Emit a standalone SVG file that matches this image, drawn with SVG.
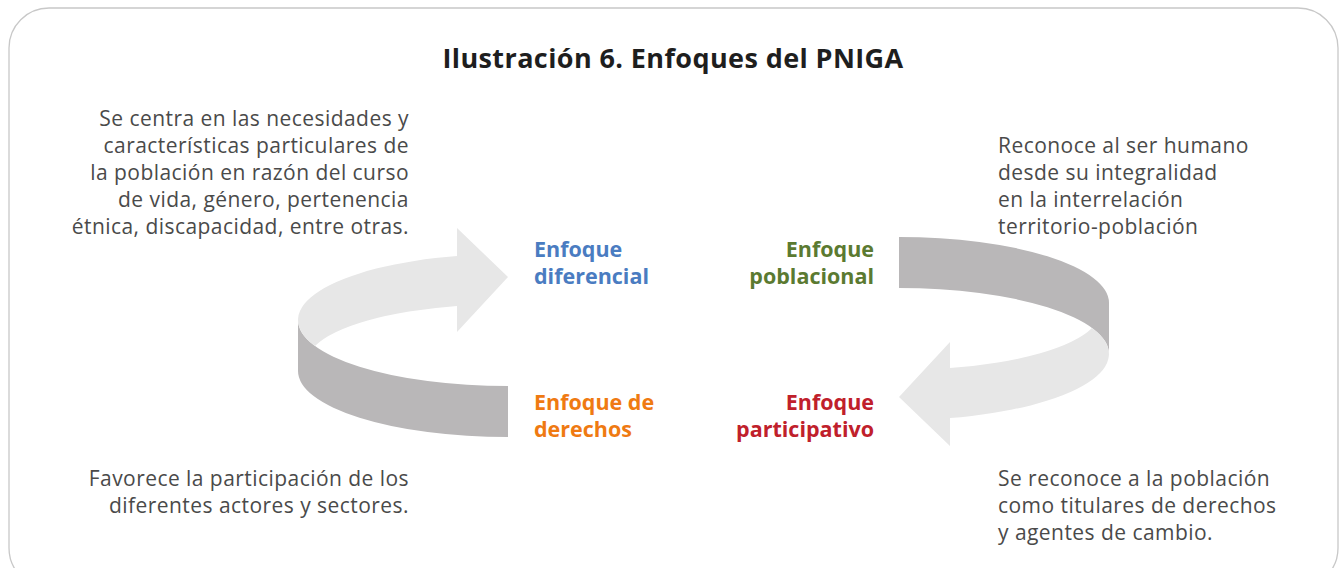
<svg xmlns="http://www.w3.org/2000/svg" width="1340" height="568" viewBox="0 0 1340 568">
<style>
.frame{fill:#ffffff;stroke:#c8c8c8;stroke-width:1.3}
.title{font-family:"Open Sans","Liberation Sans",sans-serif;font-weight:700;font-size:27px;letter-spacing:0.4px;fill:#1e1e1e;text-anchor:middle}
.desc{font-family:"Open Sans","Liberation Sans",sans-serif;font-size:21px;letter-spacing:0.45px;fill:#4a4a4a}
.r{text-anchor:end}
.lab{font-family:"Open Sans","Liberation Sans",sans-serif;font-weight:700;font-size:21.5px}
.light{fill:#e7e7e7}
.dark{fill:#b9b7b8}
</style>
<defs>
<g id="ribbon">
<path class="dark" d="M298,320 A210 66 0 0 0 508 386 L508,437 A210 66 0 0 1 298 371 Z"/>
<path class="light" d="M457,228 L508,277 L457,332 L457,305.9 A200 58 0 0 0 315 346 A210 66 0 0 1 457 256 Z"/>
</g>
</defs>
<rect class="frame" x="9" y="8" width="1329" height="580" rx="40" ry="40"/>
<text class="title" x="673" y="68">Ilustración 6. Enfoques del PNIGA</text>
<g id="connectors">
<use href="#ribbon"/>
<use href="#ribbon" transform="rotate(180 703.5 337)"/>
</g>
<g id="node-diferencial">
<text class="desc r" x="409" y="126">Se centra en las necesidades y</text>
<text class="desc r" x="409" y="153">características particulares de</text>
<text class="desc r" x="409" y="180">la población en razón del curso</text>
<text class="desc r" x="409" y="207">de vida, género, pertenencia</text>
<text class="desc r" x="409" y="234">étnica, discapacidad, entre otras.</text>
<text class="lab" x="534" y="257" fill="#4a7cc1">Enfoque</text>
<text class="lab" x="534" y="284" fill="#4a7cc1">diferencial</text>
</g>
<g id="node-poblacional">
<text class="desc" x="998" y="153">Reconoce al ser humano</text>
<text class="desc" x="998" y="180">desde su integralidad</text>
<text class="desc" x="998" y="207">en la interrelación</text>
<text class="desc" x="998" y="234">territorio-población</text>
<text class="lab r" x="874" y="257" fill="#5b7a31">Enfoque</text>
<text class="lab r" x="874" y="284" fill="#5b7a31">poblacional</text>
</g>
<g id="node-derechos">
<text class="desc r" x="409" y="486">Favorece la participación de los</text>
<text class="desc r" x="409" y="513">diferentes actores y sectores.</text>
<text class="lab" x="534" y="410" fill="#ef7a12">Enfoque de</text>
<text class="lab" x="534" y="437" fill="#ef7a12">derechos</text>
</g>
<g id="node-participativo">
<text class="desc" x="998" y="486">Se reconoce a la población</text>
<text class="desc" x="998" y="513">como titulares de derechos</text>
<text class="desc" x="998" y="540">y agentes de cambio.</text>
<text class="lab r" x="874" y="410" fill="#c0202b">Enfoque</text>
<text class="lab r" x="874" y="437" fill="#c0202b">participativo</text>
</g>
</svg>
